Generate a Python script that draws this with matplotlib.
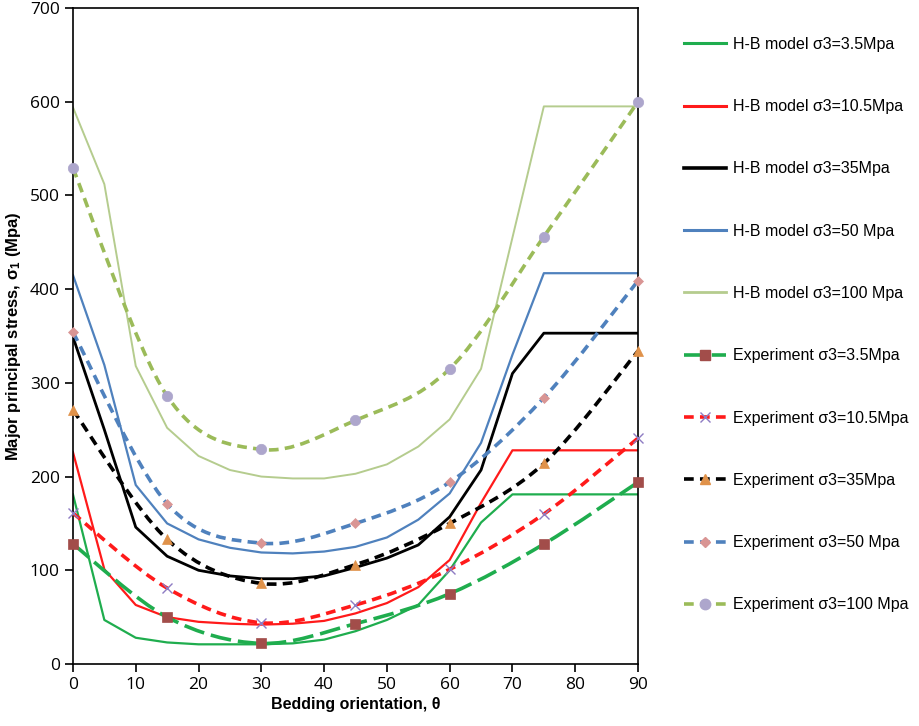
import numpy as np
import matplotlib
matplotlib.use("Agg")
import matplotlib.pyplot as plt
from matplotlib.path import Path
from matplotlib.patches import PathPatch
from matplotlib.lines import Line2D

plt.rcParams['font.family'] = ['Liberation Sans', 'DejaVu Sans']
plt.rcParams['mathtext.default'] = 'regular'
plt.rcParams['lines.scale_dashes'] = False

## H-B model curves
theta_model = [0, 5, 10, 15, 20, 25, 30, 35, 40, 45, 50, 55, 60, 65, 70, 75, 80, 85, 90]
hb_3_5 = [181, 47, 28, 23, 21, 21, 21, 22, 26, 35, 47, 63, 100, 151, 181, 181, 181, 181, 181]
hb_10_5 = [226, 101, 63, 50, 45, 43, 42, 43, 46, 54, 65, 82, 111, 172, 228, 228, 228, 228, 228]
hb_35 = [349, 250, 146, 115, 100, 94, 91, 91, 94, 103, 113, 127, 157, 207, 310, 353, 353, 353, 353]
hb_50 = [415, 319, 191, 150, 133, 124, 119, 118, 120, 125, 135, 154, 182, 236, 330, 417, 417, 417, 417]
hb_100 = [594, 512, 318, 252, 222, 207, 200, 198, 198, 203, 213, 232, 261, 315, 455, 595, 595, 595, 595]

## experiment points
theta_exp = [0, 15, 30, 45, 60, 75, 90]
exp_3_5 = [128, 50, 22, 43, 75, 128, 194]
exp_10_5 = [161, 81, 44, 63, 101, 160, 241]
exp_35 = [271, 133, 86, 106, 150, 214, 334]
exp_50 = [354, 171, 129, 150, 194, 284, 409]
exp_100 = [529, 286, 229, 260, 315, 456, 600]

model_labels = ["H-B model σ3=3.5Mpa", "H-B model σ3=10.5Mpa", "H-B model σ3=35Mpa",
                "H-B model σ3=50 Mpa", "H-B model σ3=100 Mpa"]
exp_labels = ["Experiment σ3=3.5Mpa", "Experiment σ3=10.5Mpa", "Experiment σ3=35Mpa",
              "Experiment σ3=50 Mpa", "Experiment σ3=100 Mpa"]

model_colors = ['#1fad4e', '#ff1a1a', '#000000', '#4f81bd', '#b5cc8e']
model_lw = [1.6, 1.6, 2.0, 1.6, 1.4]
exp_line_colors = ['#1fad4e', '#ff1a1a', '#000000', '#4f81bd', '#9bbb59']
exp_marker_colors = ['#a24d4a', '#8e7cc3', '#e0924a', '#d99594', '#ada6cc']
exp_markers = ['s', 'x', '^', 'D', 'o']
exp_msize = [7, 7, 7, 5, 7.5]
exp_dashes = [(15, 5), (7, 4.5), (7, 4.5), (7, 4.5), (7, 4.5)]


def smooth_path(xs, ys):
    ## Excel style smoothed line as cubic bezier through the points
    pts = np.column_stack([xs, ys]).astype(float)
    n = len(pts)
    verts = [pts[0]]
    codes = [Path.MOVETO]
    for i in range(n - 1):
        p0 = pts[i - 1] if i > 0 else pts[i]
        p1 = pts[i]
        p2 = pts[i + 1]
        p3 = pts[i + 2] if i + 2 < n else pts[i + 1]
        c1 = p1 + (p2 - p0) / 6.0
        c2 = p2 - (p3 - p1) / 6.0
        verts += [c1, c2, p2]
        codes += [Path.CURVE4] * 3
    return Path(verts, codes)


fig = plt.figure(figsize=(9.2, 7.26), dpi=100)
ax = fig.add_axes([0.0793, 0.0854, 0.6142, 0.9036])

model_series = [hb_3_5, hb_10_5, hb_35, hb_50, hb_100]
exp_series = [exp_3_5, exp_10_5, exp_35, exp_50, exp_100]

for vals, c, lw in zip(model_series, model_colors, model_lw):
    ax.plot(theta_model, vals, color=c, lw=lw, zorder=2)

handles = []
for vals, lc, mc, m, ms, ds in zip(exp_series, exp_line_colors, exp_marker_colors,
                                   exp_markers, exp_msize, exp_dashes):
    patch = PathPatch(smooth_path(theta_exp, vals), fill=False, edgecolor=lc,
                      lw=2.6, linestyle=(0, ds), zorder=3, capstyle='butt')
    ax.add_patch(patch)
    ax.plot(theta_exp, vals, ls='none', marker=m, ms=ms, color=mc,
            mec=mc, mew=1.0 if m == 'x' else 0.5, zorder=4, clip_on=False)

for lab, c, lw in zip(model_labels, model_colors, model_lw):
    handles.append(Line2D([], [], color=c, lw=lw + 0.6, label=lab))
for lab, lc, mc, m, ms, ds in zip(exp_labels, exp_line_colors, exp_marker_colors,
                                  exp_markers, exp_msize, exp_dashes):
    handles.append(Line2D([], [], color=lc, lw=2.6, ls=(0, ds), marker=m, ms=ms,
                          mfc=mc, mec=mc, label=lab))

ax.set_xlim(0, 90)
ax.set_ylim(0, 700)
ax.set_xticks(np.arange(0, 91, 10))
ax.set_yticks(np.arange(0, 701, 100))
ax.tick_params(direction='out', length=6, width=1.2, labelsize=12.5, top=False, right=False)
for lab in ax.get_xticklabels() + ax.get_yticklabels():
    lab.set_fontfamily('Open Sans')
for s in ax.spines.values():
    s.set_linewidth(1.2)

ax.set_xlabel("Bedding orientation, θ", fontsize=11.5, fontweight='bold', labelpad=3)
ax.set_ylabel("Major principal stress, σ$_1$ (Mpa)", fontsize=12, fontweight='bold', labelpad=5)

fig.legend(handles=handles, loc='upper left', bbox_to_anchor=(0.737, 0.958),
           frameon=False, fontsize=11.5, handlelength=2.6, handletextpad=0.45,
           labelspacing=2.96, borderaxespad=0)

fig.savefig("out.png", dpi=100)
